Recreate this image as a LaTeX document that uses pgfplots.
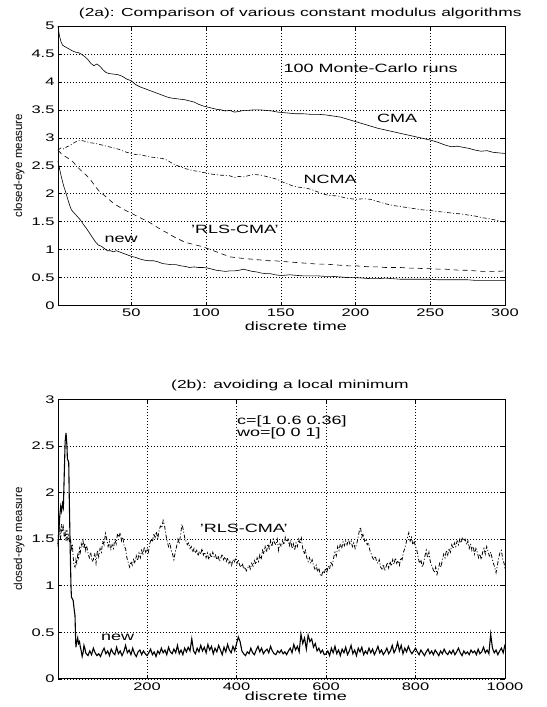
\documentclass[border=0pt]{standalone}
\usepackage{fontspec}
\setmainfont{Liberation Sans}[FakeStretch=1.5]
\newfontfamily\ylfont{Liberation Sans}
\usepackage{pgfplots}
\pgfplotsset{compat=1.18}
\pgfplotsset{mlab/.style={
  scale only axis, width=447bp, height=279.5bp,
  enlargelimits=false,
  axis line style={line width=1pt},
  grid=major,
  major grid style={black, line width=0.5pt, dash pattern=on 0.6pt off 2.4pt},
  tick align=inside, major tick length=4bp,
  tick style={black, line width=0.5pt},
  /pgf/number format/assume math mode=true,
  /pgf/number format/1000 sep={},
  ticklabel style={font=\fontsize{11bp}{13bp}\selectfont},
  title style={anchor=center, font=\fontsize{11.6bp}{14bp}\selectfont},
  xlabel style={anchor=center, font=\fontsize{12bp}{14bp}\selectfont},
  ylabel style={anchor=center, font=\ylfont\fontsize{11.5bp}{13bp}\selectfont},
  clip=false,
}}
\begin{document}
\begin{tikzpicture}
\useasboundingbox (0,0) rectangle (547bp,-707bp);
% ---------------- (2a) ----------------
\begin{axis}[mlab, at={(58bp,-26bp)}, anchor=north west,
  xmin=1, xmax=300, ymin=0, ymax=5,
  xtick={50,100,150,200,250,300},
  ytick={0,0.5,1,1.5,2,2.5,3,3.5,4,4.5,5},
  title={(2a): Comparison of various constant modulus algorithms},
  title style={at={(0.542,1.024)}},
  xlabel={discrete time}, xlabel style={at={(0.532,-0.073)}},
  ylabel={closed-eye measure}, ylabel style={at={(-0.087,0.5)}},
]
% CMA
\addplot[black, line width=0.6pt] coordinates {
(1,5.0) (2,4.82) (3,4.72) (4,4.66) (5,4.64) (7,4.61) (9,4.58) (11,4.55) (13,4.53) (15,4.52) (17,4.49) (19,4.45) (21,4.40) (23,4.33) (25,4.29) (27,4.32) (29,4.28) (31,4.22) (33,4.17) (35,4.15) (38,4.14) (41,4.13) (44,4.10) (47,4.05) (50,4.02) (53,3.95) (56,3.91) (59,3.88) (62,3.85) (65,3.82) (68,3.79) (71,3.76) (74,3.73) (77,3.71) (80,3.70) (83,3.69) (86,3.68) (89,3.66) (92,3.64) (95,3.60) (98,3.57) (101,3.55) (104,3.53) (107,3.51) (110,3.50) (113,3.48) (116,3.49) (119,3.46) (122,3.47) (125,3.49) (128,3.49) (132,3.50) (136,3.50) (140,3.49) (144,3.48) (148,3.46) (152,3.45) (156,3.44) (160,3.43) (165,3.43) (170,3.42) (175,3.42) (180,3.41) (185,3.39) (190,3.37) (195,3.33) (200,3.29) (205,3.25) (210,3.21) (215,3.17) (220,3.14) (225,3.11) (230,3.08) (235,3.05) (240,3.02) (245,2.99) (250,2.96) (255,2.92) (260,2.87) (264,2.84) (268,2.85) (272,2.83) (276,2.81) (280,2.78) (284,2.76) (288,2.77) (292,2.74) (296,2.73) (300,2.72)};
% NCMA
\addplot[black, line width=0.6pt, dash pattern=on 4pt off 2pt on 1pt off 2pt] coordinates {
(1,2.78) (3,2.82) (5,2.80) (7,2.84) (9,2.86) (11,2.90) (13,2.93) (15,2.95) (17,2.95) (20,2.93) (23,2.91) (26,2.90) (29,2.88) (32,2.86) (35,2.84) (38,2.82) (41,2.80) (44,2.77) (47,2.74) (50,2.72) (53,2.70) (56,2.70) (59,2.68) (62,2.66) (65,2.65) (68,2.64) (71,2.63) (74,2.60) (77,2.55) (80,2.51) (83,2.48) (86,2.45) (89,2.43) (92,2.41) (95,2.40) (98,2.38) (101,2.37) (104,2.35) (107,2.34) (110,2.33) (113,2.33) (116,2.32) (119,2.29) (122,2.31) (125,2.30) (128,2.32) (131,2.34) (134,2.34) (137,2.33) (140,2.31) (143,2.29) (146,2.27) (149,2.24) (152,2.20) (155,2.17) (158,2.14) (161,2.12) (164,2.11) (167,2.10) (170,2.08) (173,2.05) (176,2.02) (179,1.99) (182,1.97) (188,1.96) (194,1.92) (200,1.90) (206,1.91) (210,1.90) (215,1.86) (220,1.82) (225,1.79) (230,1.77) (235,1.75) (240,1.73) (245,1.71) (250,1.70) (255,1.68) (260,1.67) (265,1.65) (270,1.64) (275,1.62) (280,1.60) (285,1.57) (290,1.55) (295,1.52) (300,1.49)};
% RLS-CMA
\addplot[black, line width=0.6pt, dash pattern=on 5pt off 4pt] coordinates {
(1,2.78) (3,2.72) (5,2.68) (8,2.63) (11,2.57) (14,2.48) (17,2.40) (20,2.33) (23,2.24) (26,2.13) (29,2.03) (32,1.97) (35,1.90) (38,1.83) (41,1.78) (44,1.73) (47,1.69) (50,1.65) (53,1.61) (56,1.57) (59,1.53) (62,1.49) (65,1.44) (68,1.39) (71,1.34) (74,1.30) (77,1.25) (80,1.21) (83,1.17) (86,1.13) (89,1.11) (92,1.09) (95,1.07) (98,1.05) (101,1.02) (104,0.99) (107,0.96) (110,0.93) (113,0.90) (116,0.87) (119,0.86) (122,0.85) (126,0.84) (130,0.83) (134,0.82) (138,0.81) (142,0.80) (146,0.80) (150,0.79) (155,0.78) (160,0.77) (165,0.76) (170,0.75) (175,0.74) (180,0.74) (185,0.73) (190,0.72) (195,0.71) (200,0.71) (205,0.70) (210,0.69) (215,0.69) (220,0.68) (225,0.68) (230,0.68) (235,0.67) (240,0.67) (245,0.66) (250,0.66) (255,0.65) (260,0.65) (265,0.64) (270,0.63) (275,0.63) (280,0.62) (285,0.61) (290,0.61) (295,0.61) (300,0.62)};
% new
\addplot[black, line width=0.6pt] coordinates {
(1,2.58) (2,2.45) (3,2.33) (4,2.22) (5,2.12) (6,2.04) (7,1.95) (8,1.86) (9,1.78) (10,1.71) (12,1.65) (14,1.59) (16,1.53) (18,1.45) (20,1.38) (22,1.30) (24,1.22) (26,1.14) (28,1.08) (30,1.06) (32,1.02) (34,0.98) (36,0.98) (38,0.96) (40,0.98) (42,0.96) (44,0.94) (46,0.92) (48,0.90) (50,0.88) (53,0.86) (56,0.83) (59,0.81) (62,0.80) (65,0.80) (68,0.78) (71,0.75) (74,0.74) (77,0.73) (80,0.73) (83,0.71) (86,0.70) (89,0.68) (92,0.69) (95,0.68) (98,0.68) (101,0.67) (104,0.65) (107,0.63) (110,0.62) (113,0.61) (116,0.62) (119,0.62) (122,0.63) (125,0.65) (128,0.63) (131,0.61) (134,0.60) (137,0.58) (140,0.57) (143,0.57) (146,0.55) (149,0.54) (152,0.54) (156,0.55) (160,0.54) (165,0.53) (170,0.53) (175,0.53) (180,0.52) (185,0.52) (190,0.51) (195,0.50) (200,0.50) (205,0.49) (210,0.48) (215,0.48) (220,0.49) (225,0.48) (230,0.47) (235,0.47) (240,0.47) (245,0.47) (250,0.47) (255,0.46) (260,0.46) (265,0.46) (270,0.46) (275,0.46) (280,0.45) (285,0.45) (290,0.45) (295,0.45) (300,0.45)};
\node[anchor=west, font=\fontsize{12bp}{14bp}\selectfont] at (axis cs:149.5,4.24) {100 Monte-Carlo runs};
\node[font=\fontsize{12bp}{14bp}\selectfont] at (axis cs:227.8,3.35) {CMA};
\node[font=\fontsize{12bp}{14bp}\selectfont] at (axis cs:183,2.26) {NCMA};
\node[font=\fontsize{12bp}{14bp}\selectfont] at (axis cs:119.3,1.37) {'RLS-CMA'};
\node[font=\fontsize{12bp}{14bp}\selectfont] at (axis cs:43.3,1.19) {new};
\end{axis}
% ---------------- (2b) ----------------
\begin{axis}[mlab, at={(58bp,-399.4bp)}, anchor=north west,
  xmin=1, xmax=1000, ymin=0, ymax=3,
  xtick={200,400,600,800,1000},
  ytick={0,0.5,1,1.5,2,2.5,3},
  title={(2b): avoiding a local minimum},
  title style={at={(0.519,1.0275)}},
  xlabel={discrete time}, xlabel style={at={(0.532,-0.063)}},
  ylabel={closed-eye measure}, ylabel style={at={(-0.087,0.5)}},
]
% RLS-CMA
\addplot[black, line width=0.8pt, dash pattern=on 4pt off 2pt on 1pt off 2pt] coordinates {
(1,1.42) (3,1.55) (5,1.62) (7,1.50) (9,1.66) (11,1.58) (13,1.63) (15,1.52) (17,1.57) (19,1.48) (21,1.60) (23,1.50) (25,1.54) (27,1.46) (29,1.50) (31,1.40) (33,1.45) (35,1.30) (37,1.22) (39,1.20) (41,1.28) (43,1.24) (45,1.33) (47,1.30) (49,1.40) (51,1.36) (53,1.45) (55,1.42) (57,1.48) (59,1.40) (61,1.46) (63,1.38) (65,1.43) (68,1.35) (71,1.30) (74,1.36) (77,1.26) (80,1.28) (83,1.35) (86,1.24) (89,1.38) (92,1.31) (95,1.40) (98,1.36) (101,1.48) (104,1.44) (107,1.56) (110,1.50) (113,1.42) (116,1.47) (119,1.38) (122,1.44) (125,1.40) (128,1.50) (131,1.45) (134,1.56) (137,1.52) (140,1.57) (143,1.48) (146,1.52) (149,1.42) (152,1.40) (155,1.30) (158,1.25) (161,1.20) (164,1.26) (167,1.22) (170,1.28) (173,1.24) (176,1.32) (179,1.27) (182,1.35) (185,1.30) (188,1.38) (191,1.33) (194,1.42) (197,1.36) (200,1.40) (203,1.36) (206,1.45) (209,1.50) (212,1.47) (215,1.56) (218,1.52) (221,1.58) (224,1.50) (227,1.60) (230,1.64) (233,1.62) (236,1.70) (239,1.65) (242,1.55) (245,1.48) (248,1.42) (251,1.46) (254,1.38) (257,1.34) (260,1.28) (263,1.36) (266,1.42) (269,1.50) (272,1.45) (275,1.55) (278,1.66) (281,1.60) (284,1.52) (287,1.48) (290,1.44) (293,1.46) (296,1.40) (299,1.42) (302,1.36) (305,1.40) (308,1.35) (311,1.38) (314,1.32) (317,1.37) (320,1.34) (323,1.40) (326,1.33) (329,1.36) (332,1.30) (335,1.35) (338,1.28) (341,1.34) (344,1.30) (347,1.36) (350,1.31) (353,1.33) (356,1.28) (359,1.32) (362,1.26) (365,1.30) (368,1.34) (371,1.28) (374,1.31) (377,1.26) (380,1.30) (383,1.24) (386,1.27) (389,1.22) (392,1.28) (395,1.25) (398,1.30) (401,1.24) (404,1.28) (407,1.22) (410,1.20) (413,1.24) (416,1.18) (419,1.20) (422,1.16) (425,1.19) (428,1.22) (431,1.18) (434,1.24) (437,1.21) (440,1.27) (443,1.23) (446,1.30) (449,1.26) (452,1.33) (455,1.28) (458,1.38) (461,1.34) (464,1.42) (467,1.36) (470,1.45) (473,1.40) (476,1.48) (479,1.42) (482,1.50) (485,1.46) (488,1.44) (491,1.50) (494,1.38) (497,1.45) (500,1.42) (503,1.48) (506,1.44) (509,1.52) (512,1.47) (515,1.50) (518,1.43) (521,1.49) (524,1.40) (527,1.45) (530,1.38) (533,1.46) (536,1.42) (539,1.50) (542,1.45) (545,1.51) (548,1.40) (551,1.34) (554,1.38) (557,1.30) (560,1.26) (563,1.30) (566,1.24) (569,1.28) (572,1.22) (575,1.18) (578,1.22) (581,1.15) (584,1.19) (587,1.12) (590,1.10) (593,1.16) (596,1.13) (599,1.19) (602,1.15) (605,1.21) (608,1.18) (611,1.26) (614,1.22) (617,1.30) (620,1.36) (623,1.32) (626,1.42) (629,1.38) (632,1.45) (635,1.40) (638,1.47) (641,1.43) (644,1.48) (647,1.44) (650,1.50) (653,1.45) (656,1.48) (659,1.42) (662,1.46) (665,1.40) (668,1.44) (671,1.50) (674,1.58) (677,1.63) (680,1.52) (683,1.56) (686,1.48) (689,1.50) (692,1.44) (695,1.46) (698,1.38) (701,1.34) (704,1.30) (707,1.28) (710,1.32) (713,1.26) (716,1.24) (719,1.28) (722,1.20) (725,1.18) (728,1.23) (731,1.16) (734,1.20) (737,1.25) (740,1.19) (743,1.26) (746,1.21) (749,1.28) (752,1.23) (755,1.30) (758,1.24) (761,1.27) (764,1.22) (767,1.30) (770,1.28) (773,1.36) (776,1.40) (779,1.46) (782,1.52) (785,1.57) (788,1.48) (791,1.52) (794,1.44) (797,1.48) (800,1.42) (803,1.38) (806,1.30) (809,1.24) (812,1.28) (815,1.20) (818,1.24) (821,1.32) (824,1.38) (827,1.30) (830,1.36) (833,1.26) (836,1.22) (839,1.18) (842,1.14) (845,1.20) (848,1.12) (851,1.18) (854,1.24) (857,1.20) (860,1.28) (863,1.34) (866,1.30) (869,1.38) (872,1.33) (875,1.40) (878,1.36) (881,1.44) (884,1.40) (887,1.46) (890,1.42) (893,1.48) (896,1.44) (899,1.50) (902,1.46) (905,1.52) (908,1.48) (911,1.50) (914,1.44) (917,1.48) (920,1.40) (923,1.45) (926,1.38) (929,1.42) (932,1.34) (935,1.40) (938,1.36) (941,1.30) (944,1.34) (947,1.28) (950,1.36) (953,1.40) (956,1.34) (959,1.42) (962,1.37) (965,1.32) (968,1.36) (971,1.30) (974,1.24) (977,1.20) (980,1.14) (983,1.22) (986,1.30) (989,1.36) (992,1.38) (995,1.28) (998,1.24) (1000,1.18)};
% new
\addplot[black, line width=1.1pt] coordinates {
(1,1.45) (3,1.60) (5,1.75) (7,1.85) (9,1.80) (11,1.88) (13,1.84) (15,2.20) (17,2.55) (19,2.64) (21,2.50) (22,2.36) (24,2.34) (25,2.32) (26,2.00) (28,1.45) (30,1.00) (31,0.88) (33,0.86) (35,0.84) (37,0.75) (39,0.68) (40,0.50) (41,0.34) (43,0.40) (45,0.44) (47,0.38) (49,0.40) (51,0.34) (53,0.30) (55,0.24) (57,0.28) (59,0.36) (61,0.33) (63,0.28) (66,0.26)
(68,0.25) (72,0.30) (76,0.26) (80,0.33) (84,0.28) (88,0.25) (92,0.27) (96,0.24) (100,0.29) (104,0.33) (108,0.27) (112,0.30) (116,0.25) (120,0.32) (124,0.28) (128,0.26) (132,0.34) (136,0.27) (140,0.30) (144,0.25) (148,0.29) (152,0.36) (156,0.28) (160,0.31) (164,0.26) (168,0.33) (172,0.27) (176,0.24) (180,0.29) (184,0.31) (188,0.26) (192,0.30) (196,0.27) (200,0.25) (204,0.28) (208,0.32) (212,0.26) (216,0.29) (220,0.24) (224,0.30) (228,0.27) (232,0.33) (236,0.28) (240,0.31) (244,0.26) (248,0.34) (252,0.29) (256,0.27) (260,0.32) (264,0.28) (268,0.36) (272,0.27) (276,0.31) (280,0.26) (284,0.33) (288,0.29) (292,0.34) (296,0.30) (300,0.43) (304,0.30) (308,0.27) (312,0.33) (316,0.29) (320,0.36) (324,0.30) (328,0.34) (332,0.28) (336,0.37) (340,0.31) (344,0.35) (348,0.27) (352,0.33) (356,0.29) (360,0.36) (364,0.31) (368,0.26) (372,0.34) (376,0.29) (380,0.37) (384,0.31) (388,0.28) (392,0.35) (396,0.30) (400,0.38) (404,0.45) (408,0.40) (412,0.30) (416,0.27) (420,0.25) (424,0.29) (428,0.27) (432,0.33) (436,0.28) (440,0.26) (444,0.31) (448,0.35) (452,0.29) (456,0.33) (460,0.27) (464,0.30) (468,0.32) (472,0.28) (476,0.35) (480,0.30) (484,0.27) (488,0.26) (492,0.30) (496,0.28) (500,0.31) (504,0.27) (508,0.29) (512,0.26) (516,0.30) (520,0.33) (524,0.28) (528,0.37) (532,0.31) (536,0.35) (540,0.29) (544,0.48) (548,0.38) (552,0.44) (556,0.32) (560,0.47) (564,0.40) (568,0.43) (572,0.34) (576,0.38) (580,0.30) (584,0.33) (588,0.28) (592,0.31) (596,0.26) (600,0.27) (604,0.30) (608,0.25) (612,0.33) (616,0.28) (620,0.35) (624,0.27) (628,0.31) (632,0.25) (636,0.32) (640,0.28) (644,0.34) (648,0.26) (652,0.30) (656,0.36) (660,0.27) (664,0.31) (668,0.25) (672,0.33) (676,0.29) (680,0.34) (684,0.26) (688,0.30) (692,0.27) (696,0.33) (700,0.28) (704,0.32) (708,0.26) (712,0.30) (716,0.35) (720,0.28) (724,0.31) (728,0.26) (732,0.29) (736,0.33) (740,0.27) (744,0.30) (748,0.36) (752,0.28) (756,0.32) (760,0.39) (764,0.30) (768,0.36) (772,0.27) (776,0.33) (780,0.29) (784,0.35) (788,0.30) (792,0.27) (796,0.30) (800,0.33) (804,0.29) (808,0.26) (812,0.31) (816,0.28) (820,0.25) (824,0.29) (828,0.32) (832,0.27) (836,0.30) (840,0.26) (844,0.31) (848,0.28) (852,0.25) (856,0.30) (860,0.27) (864,0.32) (868,0.28) (872,0.26) (876,0.30) (880,0.27) (884,0.31) (888,0.26) (892,0.29) (896,0.33) (900,0.28) (904,0.25) (908,0.30) (912,0.27) (916,0.29) (920,0.26) (924,0.31) (928,0.28) (932,0.30) (936,0.26) (940,0.32) (944,0.27) (948,0.29) (952,0.34) (956,0.28) (960,0.31) (964,0.27) (968,0.48) (972,0.33) (976,0.28) (980,0.31) (984,0.26) (988,0.30) (992,0.33) (996,0.28) (1000,0.37)};
\node[anchor=west, font=\fontsize{12bp}{14bp}\selectfont, align=left, inner sep=0pt] at (axis cs:401,2.70) {c=[1 0.6 0.36]\\[-2bp]wo=[0 0 1]};
\node[font=\fontsize{12bp}{14bp}\selectfont] at (axis cs:416,1.62) {'RLS-CMA'};
\node[font=\fontsize{12bp}{14bp}\selectfont] at (axis cs:134,0.445) {new};
\end{axis}
\end{tikzpicture}
\end{document}
